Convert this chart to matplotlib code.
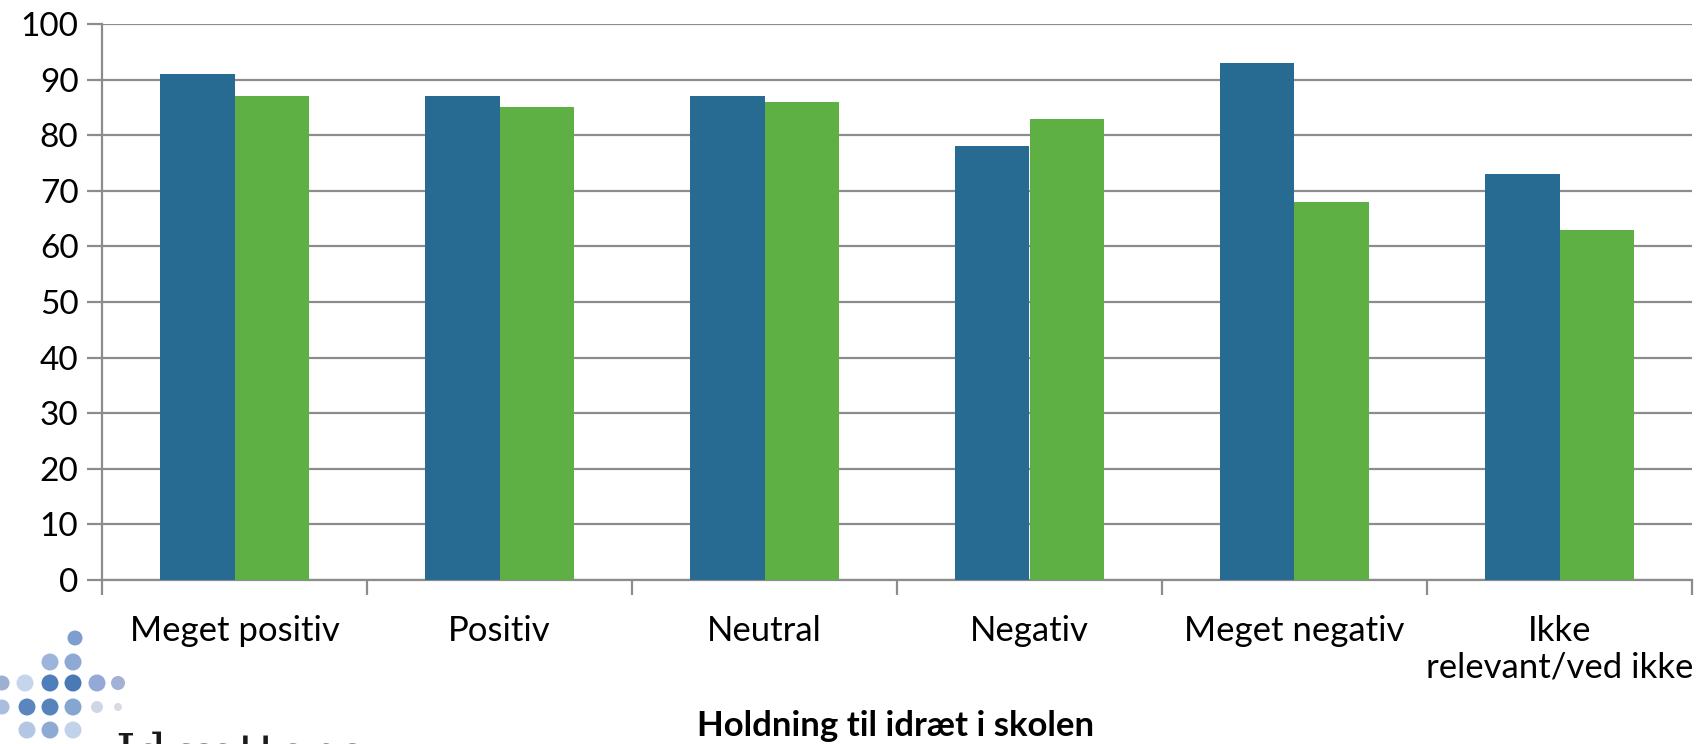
import numpy as np
import matplotlib
matplotlib.use("Agg")
import matplotlib.pyplot as plt
from matplotlib.ticker import FixedLocator
from matplotlib.patches import Ellipse

plt.rcParams["font.family"] = ["Lato", "DejaVu Sans"]

CATEGORIES = ["Meget positiv", "Positiv", "Neutral", "Negativ",
              "Meget negativ", "Ikke\nrelevant/ved ikke"]
SERIES_BLUE = [91, 87, 87, 78, 93, 73]
SERIES_GREEN = [87, 85, 86, 83, 68, 63]
Y_TICKS = list(range(0, 101, 10))
X_LABEL = "Holdning til idræt i skolen"

BLUE = "#276A92"
GREEN = "#5EB044"
GRID = "#8C8C8C"

W, H = 1702, 744
fig = plt.figure(figsize=(W / 100, H / 100), dpi=100)
ax = fig.add_axes([102 / W, (H - 580) / H, (1692 - 102) / W, (580 - 24) / H])

x = np.arange(len(CATEGORIES))
bw = 0.283
ax.bar(x - bw / 2, SERIES_BLUE, width=bw, color=BLUE, zorder=3)
ax.bar(x + bw / 2, SERIES_GREEN, width=bw, color=GREEN, zorder=3)

ax.set_xlim(-0.5, len(CATEGORIES) - 0.5)
ax.set_ylim(0, 100)
ax.set_yticks(Y_TICKS)
ax.yaxis.grid(True, color=GRID, linewidth=1.6, zorder=0)
ax.set_axisbelow(True)

ax.set_xticks(x)
ax.set_xticklabels(CATEGORIES, fontsize=25, linespacing=1.2)
ax.xaxis.set_minor_locator(FixedLocator(np.arange(len(CATEGORIES) + 1) - 0.5))
ax.tick_params(axis="x", which="major", length=0, pad=25)
ax.tick_params(axis="x", which="minor", length=11, width=1.6, color=GRID)
ax.tick_params(axis="y", length=11, width=1.6, color=GRID, labelsize=24, pad=6)

for side in ("top", "right"):
    ax.spines[side].set_visible(False)
for side in ("left", "bottom"):
    ax.spines[side].set_color(GRID)
    ax.spines[side].set_linewidth(1.6)

fig.text(896 / W, 8 / H, X_LABEL, ha="center", va="baseline",
         fontsize=25, fontweight="bold")

# logo: grid of dots plus the wordmark cut by the bottom edge
dots = [
    (75, 638, "#7d9fcf", 15),
    (50, 662, "#9db5da", 17), (73, 662, "#8eaad4", 17),
    (2, 683, "#9cb0d2", 15), (25, 683, "#c5d5ec", 17), (50, 683, "#4f7fba", 17),
    (73, 683, "#4a7ab5", 17), (97, 683, "#95a9d6", 17), (118, 683, "#a4b1d6", 14),
    (2, 707, "#a9bedf", 15), (27, 707, "#5a86bd", 17), (50, 707, "#5583bc", 17),
    (73, 707, "#86a6d2", 17), (97, 707, "#cfd6e6", 12), (118, 707, "#d8dbe3", 8),
    (27, 730, "#b3c7e5", 17), (50, 730, "#8daad3", 17), (73, 730, "#c2d2ea", 17),
]
for px, py, c, d in dots:
    fig.patches.append(Ellipse((px / W, (H - py) / H), d / W, d / H,
                               transform=fig.transFigure, color=c, ec="none"))

fig.text(115 / W, -25 / H, "Idrættens", ha="left", va="baseline",
         fontsize=36, family="DejaVu Serif", color="#1a1a1a")

fig.savefig("out.png", dpi=100)
